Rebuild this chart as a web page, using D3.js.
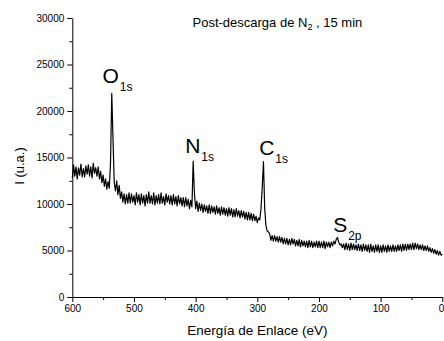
<!DOCTYPE html>
<html>
<head>
<meta charset="utf-8">
<script src="https://cdn.jsdelivr.net/npm/d3@7"></script>
<style>
  html, body { margin: 0; padding: 0; background: #fff; }
  svg { display: block; }
  text { font-family: "Liberation Sans", Arial, Helvetica, sans-serif; fill: #000; }
</style>
</head>
<body>
<svg id="chart" width="444" height="341"></svg>
<script>
// ---- data (binding energy grid: 600 eV down to 0 eV, step 2 eV) ----
const energyStart = 600;
const energyStep = 2;
const intensity = [
  12800,14200,13000,14000,12700,13900,13100,14300,12900,13800, // 600-582
  12900,14100,13200,14200,13000,14000,12800,14400,13300,13900, // 580-562
  13000,14000,12700,13500,12300,13100,11900,12700,11600,12400, // 560-542
  11700,14500,21900,17000,12300,11400,12500,11000,12000,10600, // 540-522
  11300,10200,11100,10000,11000,10100,11200,10100,11100,10200, // 520-502
  10900,9900,11200,10200,11000,9900,11100,10100,10900,9800,    // 500-482
  11000,10100,11300,10100,10900,10000,11200,9900,10900,10100,  // 480-462
  11000,10000,11200,10100,10800,9900,11100,10200,10900,10000,  // 460-442
  10900,9900,11000,10000,10800,9800,10900,10000,10700,9800,    // 440-422
  10700,9700,10700,9800,10500,9500,10400,9700,14600,11200,     // 420-402
  9500,10300,9200,10100,9300,10000,9100,9900,9200,9800,        // 400-382
  9000,9900,9000,9800,9100,9700,8900,9800,9000,9600,           // 380-362
  8800,9700,8900,9600,8800,9500,8700,9600,8800,9500,           // 360-342
  8600,9400,8600,9500,8700,9300,8500,9300,8600,9200,           // 340-322
  8400,9100,8300,9100,8300,9000,8200,8900,8200,8700,           // 320-302
  8000,8500,8300,9500,11800,14550,9500,7700,7100,7000,         // 300-282
  6800,6100,6600,6000,6600,6000,6500,5900,6500,5900,           // 280-262
  6400,5700,6300,5700,6300,5600,6200,5600,6300,5700,           // 260-242
  6200,5500,6100,5500,6200,5400,6100,5500,6000,5400,           // 240-222
  6000,5300,6100,5400,6000,5300,5900,5400,6000,5300,           // 220-202
  6000,5300,5900,5300,6000,5200,5900,5400,5900,5300,           // 200-182
  5900,5500,6000,5700,6200,6400,5900,5600,5700,5300,           // 180-162
  5700,5100,5800,5100,5700,5000,5800,5100,5700,5100,           // 160-142
  5600,5000,5700,5000,5600,4900,5700,5000,5600,4900,           // 140-122
  5600,4800,5700,4900,5500,4800,5600,4900,5600,4800,           // 120-102
  5500,4800,5600,4900,5500,4800,5600,4900,5500,4900,           // 100-82
  5600,4900,5500,4900,5600,5000,5600,4900,5700,5000,           // 80-62
  5700,5000,5700,5100,5700,5100,5800,5100,5800,5200,           // 60-42
  5700,5100,5600,5100,5600,5000,5500,5000,5500,4900,           // 40-22
  5300,4800,5200,4700,5100,4600,5000,4500,4900,4500,           // 20-2
  4600                                                          // 0
];
const xMajorTicks = [600, 500, 400, 300, 200, 100, 0];
const xMinorTicks = [550, 450, 350, 250, 150, 50];
const yMajorTicks = [0, 5000, 10000, 15000, 20000, 25000, 30000];
const yMinorTicks = [2500, 7500, 12500, 17500, 22500, 27500];
const peakNames = ["O", "N", "C", "S"];
const peakSubs = ["1s", "1s", "1s", "2p"];
const peakLabelEnergy = [551, 417, 297, 177];
const peakLabelIntensity = [23000, 15480, 15270, 7040];
const titleMain = "Post-descarga de N";
const titleSub = "2";
const titleTail = " , 15 min";
const xTitle = "Energía de Enlace (eV)";
const yTitle = "I (u.a.)";

const spectrum = intensity.map((v, i) => ({ e: energyStart - i * energyStep, v }));

// ---- layout ----
const svg = d3.select("#chart");
const x = d3.scaleLinear().domain([600, 0]).range([72.3, 442.3]);
const y = d3.scaleLinear().domain([0, 30000]).range([297, 18]);

// axes
const gx = svg.append("g").attr("transform", `translate(0,${y(0)})`);
gx.call(d3.axisBottom(x).tickValues(xMajorTicks).tickSize(5).tickSizeOuter(0).tickPadding(3).tickFormat(d3.format("d")));
// keep the last label ("0") inside the window edge
gx.selectAll(".tick text").filter(d => d === 0).attr("text-anchor", "end").attr("dx", 1.6);
svg.append("g").attr("transform", `translate(0,${y(0)})`)
  .call(d3.axisBottom(x).tickValues(xMinorTicks).tickSize(3).tickSizeOuter(0).tickFormat(""))
  .select(".domain").remove();

const gy = svg.append("g").attr("transform", `translate(${x(600)},0)`);
gy.call(d3.axisLeft(y).tickValues(yMajorTicks).tickSize(5).tickSizeOuter(0).tickPadding(3).tickFormat(d3.format("d")));
svg.append("g").attr("transform", `translate(${x(600)},0)`)
  .call(d3.axisLeft(y).tickValues(yMinorTicks).tickSize(3).tickSizeOuter(0).tickFormat(""))
  .select(".domain").remove();

svg.selectAll(".tick text").style("font-size", "10px").style("font-family", '"Liberation Sans", Arial, sans-serif').attr("fill", "#000");
svg.selectAll(".domain, .tick line").attr("stroke", "#000").attr("stroke-width", 1);

// spectrum line
svg.append("path")
  .datum(spectrum)
  .attr("fill", "none")
  .attr("stroke", "#000")
  .attr("stroke-width", 1.2)
  .attr("stroke-linejoin", "round")
  .attr("d", d3.line().x(d => x(d.e)).y(d => y(d.v)));

// peak labels
peakNames.forEach((n, i) => {
  const t = svg.append("text")
    .attr("x", x(peakLabelEnergy[i]))
    .attr("y", y(peakLabelIntensity[i]))
    .style("font-size", "21px");
  t.append("tspan").text(n);
  t.append("tspan").attr("dx", 1).attr("dy", 8).style("font-size", "12px").text(peakSubs[i]);
});

// title
const title = svg.append("text").attr("x", 192.5).attr("y", 26.5).style("font-size", "13px");
title.append("tspan").text(titleMain);
title.append("tspan").attr("dy", 3.5).style("font-size", "9px").text(titleSub);
title.append("tspan").attr("dy", -3.5).text(titleTail);

// axis titles
svg.append("text")
  .attr("x", (x(600) + x(0)) / 2)
  .attr("y", 335)
  .attr("text-anchor", "middle")
  .style("font-size", "13.5px")
  .text(xTitle);

svg.append("text")
  .attr("transform", `translate(24,166) rotate(-90)`)
  .attr("text-anchor", "middle")
  .style("font-size", "13px")
  .text(yTitle);
</script>
</body>
</html>
